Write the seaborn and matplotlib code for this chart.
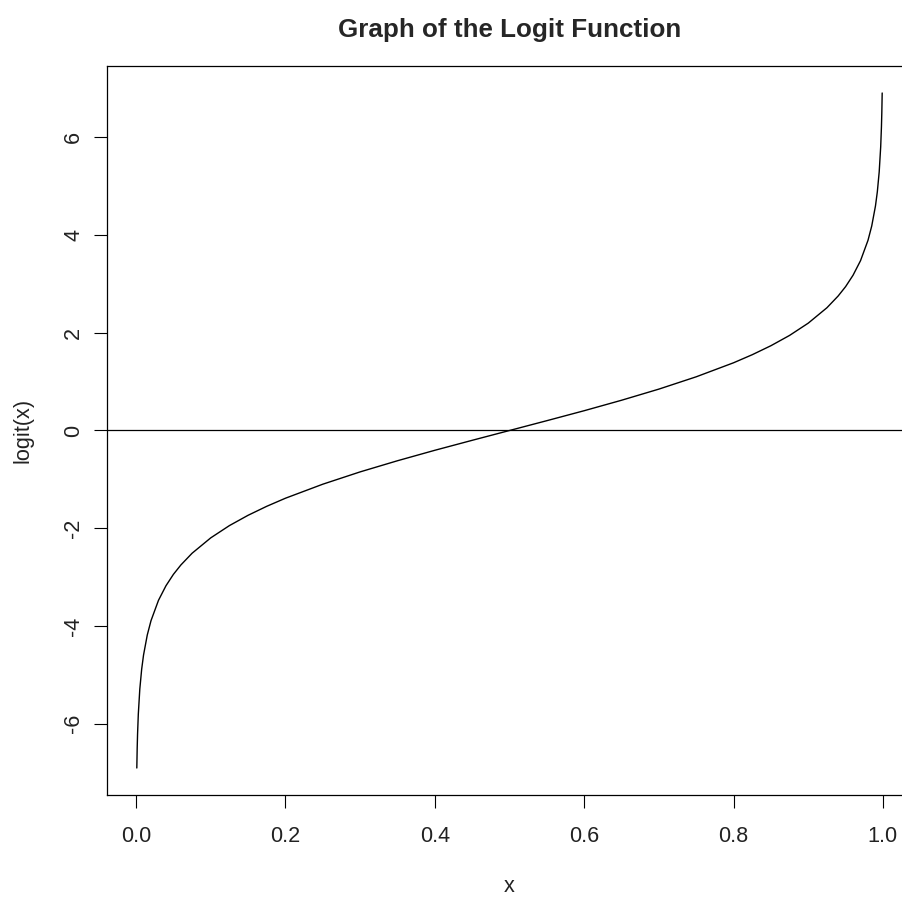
import numpy as np
import pandas as pd
import seaborn as sns
import matplotlib
matplotlib.use("Agg")
import matplotlib.pyplot as plt

# -------------------------------------------------------------------
# Style: plain white base-graphics look
# -------------------------------------------------------------------
sns.set_style("white")
plt.rcParams['font.family'] = ['Liberation Sans', 'DejaVu Sans']

# -------------------------------------------------------------------
# Values
# -------------------------------------------------------------------
x_vals = [0.001, 0.0015, 0.002, 0.003, 0.005, 0.0075, 0.01, 0.015, 0.02,
          0.03, 0.04, 0.05, 0.06, 0.075, 0.1, 0.125, 0.15, 0.175, 0.2,
          0.25, 0.3, 0.35, 0.4, 0.45, 0.5, 0.55, 0.6, 0.65, 0.7, 0.75,
          0.8, 0.825, 0.85, 0.875, 0.9, 0.925, 0.94, 0.95, 0.96, 0.97,
          0.98, 0.985, 0.99, 0.9925, 0.995, 0.997, 0.998, 0.9985, 0.999]
logit_vals = [-6.907, -6.500, -6.213, -5.806, -5.293, -4.885, -4.595,
              -4.185, -3.892, -3.476, -3.178, -2.944, -2.752, -2.512,
              -2.197, -1.946, -1.735, -1.551, -1.386, -1.099, -0.847,
              -0.619, -0.405, -0.201, 0.0, 0.201, 0.405, 0.619, 0.847,
              1.099, 1.386, 1.551, 1.735, 1.946, 2.197, 2.512, 2.752,
              2.944, 3.178, 3.476, 3.892, 4.185, 4.595, 4.885, 5.293,
              5.806, 6.213, 6.500, 6.907]

x_ticks = [0.0, 0.2, 0.4, 0.6, 0.8, 1.0]
y_ticks = [-6, -4, -2, 0, 2, 4, 6]

df = pd.DataFrame({"x": x_vals, "logit": logit_vals})

# -------------------------------------------------------------------
# Figure
# -------------------------------------------------------------------
fig = plt.figure(figsize=(9.03, 9.00), dpi=100)
ax = fig.add_axes([107 / 903, 1 - 795 / 900, 805 / 903, 729 / 900])

sns.lineplot(data=df, x="x", y="logit", color="black", linewidth=1.0,
             ax=ax, sort=False)
ax.axhline(0, color="black", linewidth=0.9)

# R-style 4% range extension
xr = max(x_vals) - min(x_vals)
yr = max(logit_vals) - min(logit_vals)
ax.set_xlim(min(x_vals) - 0.04 * xr, max(x_vals) + 0.04 * xr)
ax.set_ylim(min(logit_vals) - 0.04 * yr, max(logit_vals) + 0.04 * yr)

ax.set_xticks(x_ticks)
ax.set_xticklabels([f"{t:.1f}" for t in x_ticks])
ax.set_yticks(y_ticks)
ax.set_yticklabels([str(t) for t in y_ticks], rotation=90, va="center")

ax.tick_params(axis="both", direction="out", length=9.4, width=0.8,
               color="black", labelsize=15.6, labelcolor="#222222",
               bottom=True, left=True)
ax.tick_params(axis="x", pad=13)
ax.tick_params(axis="y", pad=7)

for sp in ax.spines.values():
    sp.set_color("black")
    sp.set_linewidth(0.9)

ax.set_xlabel("x", fontsize=15.6, color="#222222")
ax.set_ylabel("logit(x)", fontsize=15.6, color="#222222")
ax.xaxis.set_label_coords(509.5 / 903, 1 - 887 / 900, transform=fig.transFigure)
ax.yaxis.set_label_coords(23 / 903, 1 - 430 / 900, transform=fig.transFigure)
ax.xaxis.label.set_va("center")
ax.yaxis.label.set_va("center")

fig.suptitle("Graph of the Logit Function", x=509.5 / 903, y=1 - 30 / 900,
             va="center", fontsize=18.7, fontweight="bold")

fig.savefig("out.png", dpi=100)
